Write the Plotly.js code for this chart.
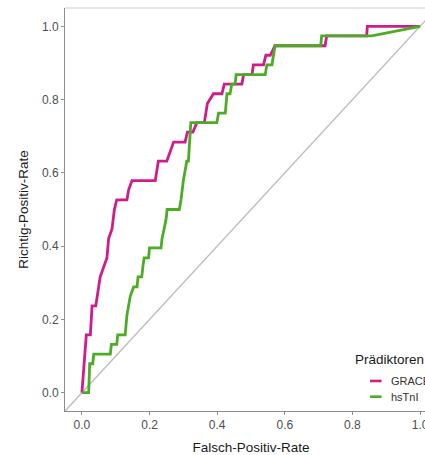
<!DOCTYPE html>
<html>
<head>
<meta charset="utf-8">
<script src="https://cdn.plot.ly/plotly-3.0.1.min.js"></script>
<style>
  html, body { margin: 0; padding: 0; overflow: hidden; background: #ffffff; }
  #chart { width: 470px; height: 455px; }
</style>
</head>
<body>
<div id="chart"></div>
<script>
// ROC curves of the two predictors (false positive rate vs. true positive rate)
const graceFpr = [0, 0.002, 0.008, 0.013, 0.025, 0.030, 0.041, 0.045, 0.054, 0.064, 0.074, 0.079, 0.089, 0.096, 0.103,
  0.133, 0.138, 0.148, 0.217, 0.226, 0.251, 0.271, 0.305, 0.312, 0.328, 0.340, 0.362, 0.371, 0.389, 0.414, 0.421,
  0.473, 0.478, 0.503, 0.507, 0.537, 0.544, 0.557, 0.571, 0.719, 0.724, 0.842, 0.844, 1];
const graceTpr = [0, 0.026, 0.092, 0.158, 0.158, 0.237, 0.237, 0.263, 0.316, 0.342, 0.368, 0.421, 0.447, 0.500, 0.526,
  0.526, 0.553, 0.579, 0.579, 0.632, 0.632, 0.684, 0.684, 0.711, 0.711, 0.737, 0.737, 0.789, 0.816, 0.816, 0.842,
  0.842, 0.868, 0.868, 0.895, 0.895, 0.921, 0.921, 0.947, 0.947, 0.974, 0.974, 1.0, 1];

const hstniFpr = [0, 0.020, 0.023, 0.032, 0.035, 0.084, 0.087, 0.103, 0.106, 0.128, 0.133, 0.138, 0.143, 0.153, 0.163,
  0.166, 0.177, 0.180, 0.184, 0.197, 0.200, 0.234, 0.237, 0.243, 0.249, 0.252, 0.288, 0.293, 0.296, 0.300, 0.305,
  0.310, 0.315, 0.322, 0.399, 0.404, 0.424, 0.429, 0.438, 0.443, 0.453, 0.456, 0.542, 0.547, 0.562, 0.566, 0.571,
  0.706, 0.709, 0.857, 1];
const hstniTpr = [0, 0, 0.079, 0.079, 0.105, 0.105, 0.132, 0.132, 0.158, 0.158, 0.211, 0.237, 0.263, 0.289, 0.289,
  0.316, 0.316, 0.342, 0.368, 0.368, 0.395, 0.395, 0.421, 0.447, 0.474, 0.500, 0.500, 0.526, 0.553, 0.579, 0.605,
  0.632, 0.632, 0.737, 0.737, 0.763, 0.763, 0.816, 0.816, 0.842, 0.842, 0.868, 0.868, 0.895, 0.895, 0.921, 0.947,
  0.947, 0.974, 0.974, 1];

const seriesNames = ["GRACE", "hsTnI"];
const seriesColors = ["#D01C8B", "#4DAC26"];
const tickVals = [0, 0.2, 0.4, 0.6, 0.8, 1.0];
const tickText = ["0.0", "0.2", "0.4", "0.6", "0.8", "1.0"];
const axisRange = [-0.05, 1.05];

const font = "Liberation Sans, Arial, sans-serif";

const traces = [
  { x: graceFpr, y: graceTpr, name: seriesNames[0], mode: "lines",
    line: { color: seriesColors[0], width: 2.8 }, showlegend: false, hoverinfo: "skip" },
  { x: hstniFpr, y: hstniTpr, name: seriesNames[1], mode: "lines",
    line: { color: seriesColors[1], width: 2.8 }, showlegend: false, hoverinfo: "skip" }
];

// legend block inside the panel (short keys, ggplot style)
const legendX = 0.773, keyX0 = 0.820, keyX1 = 0.851, labelX = 0.871;
const legendRows = [0.0745, 0.0355];

const shapes = [
  // chance diagonal across the whole panel
  { type: "line", xref: "x", yref: "y", x0: axisRange[0], y0: axisRange[0], x1: axisRange[1], y1: axisRange[1],
    line: { color: "#BDBDBD", width: 1.5 }, layer: "below" },
  // light top border of the panel
  { type: "line", xref: "paper", yref: "paper", x0: 0, x1: 1, y0: 1, y1: 1,
    line: { color: "#CFCFCF", width: 1 } }
];
const annotations = [
  { xref: "paper", yref: "paper", x: legendX, y: 0.127, xanchor: "left", yanchor: "middle",
    text: "Prädiktoren", showarrow: false, font: { family: font, size: 13.5, color: "#1a1a1a" } }
];
seriesNames.forEach((n, i) => {
  shapes.push({ type: "line", xref: "paper", yref: "paper", x0: keyX0, x1: keyX1, y0: legendRows[i], y1: legendRows[i],
    line: { color: seriesColors[i], width: 2.6 } });
  annotations.push({ xref: "paper", yref: "paper", x: labelX, y: legendRows[i], xanchor: "left", yanchor: "middle",
    text: n, showarrow: false, font: { family: font, size: 11, color: "#333333" } });
});

const axisCommon = {
  range: axisRange, tickmode: "array", tickvals: tickVals, ticktext: tickText,
  showgrid: false, zeroline: false, showline: true, linecolor: "#8C8C8C", linewidth: 1,
  ticks: "outside", ticklen: 3, tickcolor: "#8C8C8C", tickwidth: 1,
  tickfont: { family: font, size: 12, color: "#4D4D4D" }
};

const layout = {
  width: 470, height: 455,
  margin: { l: 65, r: 33, t: 8, b: 44 },
  paper_bgcolor: "#ffffff", plot_bgcolor: "#ffffff",
  xaxis: Object.assign({}, axisCommon, {
    title: { text: "Falsch-Positiv-Rate", font: { family: font, size: 13.5, color: "#1a1a1a" }, standoff: 12 }
  }),
  yaxis: Object.assign({}, axisCommon, {
    title: { text: "Richtig-Positiv-Rate", font: { family: font, size: 13.5, color: "#1a1a1a" }, standoff: 10 }
  }),
  shapes: shapes,
  annotations: annotations
};

Plotly.newPlot("chart", traces, layout, { displayModeBar: false, staticPlot: true });
</script>
</body>
</html>
